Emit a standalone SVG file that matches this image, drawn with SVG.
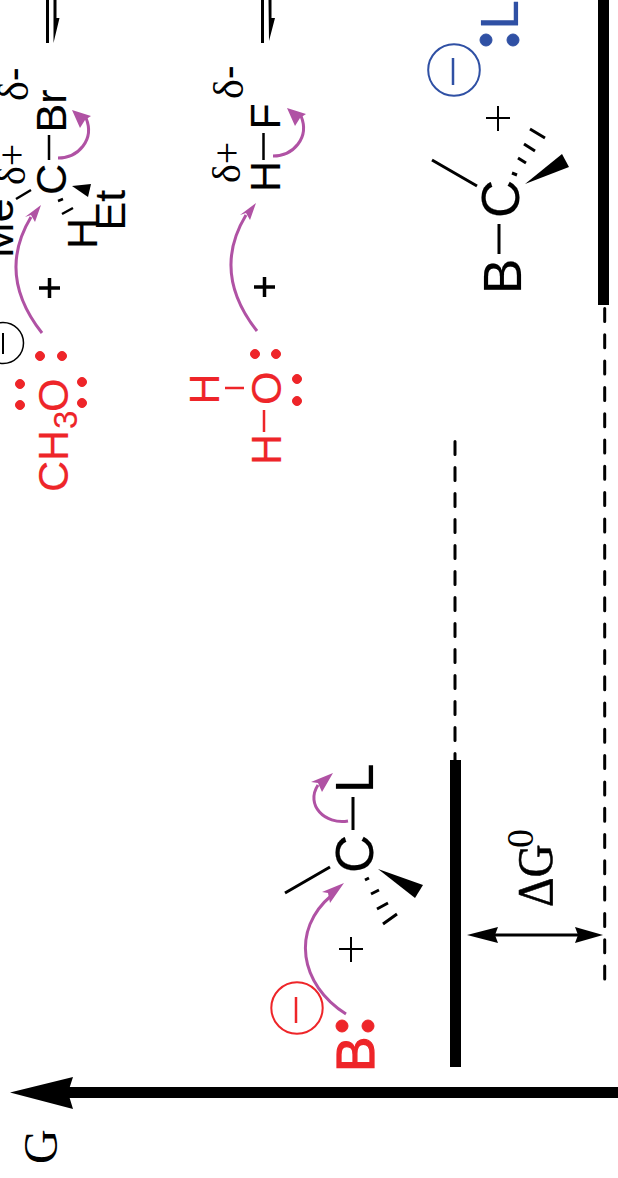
<svg xmlns="http://www.w3.org/2000/svg" width="618" height="1178" viewBox="0 0 618 1178">
<style>
text{font-family:"Liberation Sans",Arial,sans-serif;fill:#000}
.s{font-family:"Liberation Serif","Times New Roman",serif}
.m{font-size:43px;stroke:#000;stroke-width:.15}.l{font-size:53px;stroke:#000;stroke-width:.15}
.red{fill:#ee2529;stroke:#ee2529}.blue{fill:#2f50a4;stroke:#2f50a4}
.k{stroke:#000;fill:none}
.rl{stroke:#ee2529;fill:none}.bl{stroke:#2f50a4;fill:none}
.p{stroke:#b052a4;stroke-width:3;fill:none}.ph{fill:#b052a4}
.bar{fill:#000}
.dash{stroke:#000;stroke-width:3;fill:none;stroke-linecap:round}
</style>
<rect width="618" height="1178" fill="#fff"/>
<g id="eq1"><rect class="bar" x="46" y="0" width="3" height="43"/><polygon points="53.5,0 56.5,0 56.5,18 59.5,18 53.5,43"/></g>
<g id="eq2"><rect class="bar" x="261" y="0" width="3" height="43"/><polygon points="268.5,0 271.5,0 271.5,18 275,18 269,41"/></g>

<g id="substrate-bromide">
<text class="m" transform="translate(13,258) rotate(-90)">Me</text>
<text class="m" transform="translate(65.500,195) rotate(-90)">C</text>
<text class="m" transform="translate(66,132.500) rotate(-90)">Br</text>
<text class="m" transform="translate(125,230.500) rotate(-90)">Et</text>
<text class="m" transform="translate(97,249) rotate(-90)">H</text>
<text class="s" font-size="42" transform="translate(28,101) rotate(-90)">δ<tspan font-family="Liberation Sans">-</tspan></text>
<text class="s" font-size="40" transform="translate(25,185) rotate(-90)">δ+</text>
<path class="k" stroke-width="2.500" d="M49,135V160M16,199L31,190M58,201L63,199M62,214L73,208"/>
<polygon points="72,186 91,184 88,197"/>
</g>
<g id="methoxide">
<circle class="k" stroke-width="1.500" cx="3" cy="343" r="20.500"/><path class="k" stroke-width="2" d="M3,333V354"/>
<text class="m red" transform="translate(68,492) rotate(-90)">CH</text>
<text class="red" font-size="33" stroke-width=".15" transform="translate(77,429) rotate(-90)">3</text>
<text class="m red" transform="translate(68,412) rotate(-90)">O</text>
<g class="red"><circle cx="40" cy="356" r="4.500"/><circle cx="62" cy="356" r="4.500"/><circle cx="20" cy="384" r="4.500"/><circle cx="20" cy="405" r="4.500"/><circle cx="82" cy="382" r="4.500"/><circle cx="82" cy="403" r="4.500"/></g>
</g>
<g id="plus1"><path class="k" stroke-width="3.500" d="M39,288H60M49.500,278V298"/></g>

<g id="hf">
<text class="m" transform="translate(280,192) rotate(-90)">H</text>
<text class="m" transform="translate(280,129.500) rotate(-90)">F</text>
<path class="k" stroke-width="2.500" d="M263.500,133V160"/>
<text class="s" font-size="42" transform="translate(243,99) rotate(-90)">δ<tspan font-family="Liberation Sans">-</tspan></text>
<text class="s" font-size="40" transform="translate(240,183) rotate(-90)">δ+</text>
</g>
<g id="water">
<text class="m red" transform="translate(281,405) rotate(-90)">O</text>
<text class="m red" transform="translate(219,404.500) rotate(-90)">H</text>
<text class="m red" transform="translate(281,465) rotate(-90)">H</text>
<path class="rl" stroke-width="2.500" d="M225,388H244M264,410V432"/>
<g class="red"><circle cx="255" cy="354" r="4.500"/><circle cx="276" cy="354" r="4.500"/><circle cx="297" cy="379" r="4.500"/><circle cx="297" cy="401" r="4.500"/></g>
</g>
<g id="plus2"><path class="k" stroke-width="3.500" d="M254,287H275M264.500,277V297"/></g>

<g id="blue-leaving-group">
<text class="l blue" transform="translate(518,29.500) rotate(-90)">L</text>
<g class="blue"><circle cx="486" cy="40" r="6"/><circle cx="513" cy="40" r="6"/></g>
<circle class="bl" stroke-width="2" cx="454" cy="70" r="25.800"/><path class="bl" stroke-width="2.500" d="M453,58V85"/>
</g>
<g id="plus3"><path class="k" stroke-width="2" d="M486,118H510M498,106V131"/></g>
<g id="product">
<text class="l" transform="translate(519,218) rotate(-90)">C</text>
<text class="l" transform="translate(520.500,294) rotate(-90)">B</text>
<path class="k" stroke-width="3" d="M499,224V254M432,160L477,186M512,173L517,175M518,158L526,163M524,144L535,151M530,129L545,138"/>
<polygon points="525,184 562,154 569,167"/>
</g>

<g id="substrate">
<text class="l" transform="translate(373,793) rotate(-90)">L</text>
<text class="l" transform="translate(373,873) rotate(-90)">C</text>
<path class="k" stroke-width="3" d="M353,797V830M285,893L330,867M365,880L369,878M371,894L379,890M377,909L388,903M383,924L397,914"/>
<polygon points="378,869 423,885 415,898"/>
</g>
<g id="plus4"><path class="k" stroke-width="2" d="M339,949H363M351,937V962"/></g>
<g id="base">
<text class="l red" style="stroke-width:1.200px" transform="translate(374,1072) rotate(-90)">B</text>
<g class="red"><circle cx="342" cy="1026" r="6"/><circle cx="368" cy="1026" r="6"/></g>
<circle class="rl" stroke-width="2" cx="297" cy="1008" r="25.700"/><path class="rl" stroke-width="2.500" d="M296,997V1023"/>
</g>

<g id="levels">
<rect class="bar" x="598" y="0" width="11" height="305"/>
<rect class="bar" x="450" y="760" width="11" height="307"/>
<path class="dash" stroke-dasharray="13 13.300" d="M604.700,308.500V979"/>
<path class="dash" stroke-dasharray="13 13" d="M455,441.500V762"/>
</g>
<g id="axis">
<rect class="bar" x="65" y="1087" width="553" height="11"/>
<polygon points="10,1092.500 73,1077 68,1092.500 73,1109"/>
<text class="s" font-size="48" transform="translate(57,1164) rotate(-90)">G</text>
</g>
<g id="delta-g">
<text class="s" font-size="46" stroke="#000" stroke-width=".5" transform="translate(552,907) rotate(-90) scale(1,1.100)">ΔG</text>
<text class="s" font-size="38" transform="translate(533,848) rotate(-90)">0</text>
</g>

<g id="connectors">
<path class="p" d="M58,158C78,158 95,140 86,118"/><polygon class="ph" points="72,110 91,116 85,120 80,128"/>
<path class="p" d="M273,156C293,156 310,138 301,116"/><polygon class="ph" points="287,108 306,114 300,118 295,126"/>
<path class="p" d="M42,333C20,305 2,265 31,217"/><polygon class="ph" points="41,205 25,217 31,215 35,222"/>
<path class="p" d="M257,331C235,303 217,263 246,215"/><polygon class="ph" points="256,203 240,215 246,213 250,220"/>
<path class="p" d="M348,821C325,825 305,805 318,785"/><polygon class="ph" points="333,773 311,782 318,783 322,792"/>
<path class="p" d="M346,1014C300,985 290,930 332,895"/><polygon class="ph" points="344,883 322,892 328,893 330,903"/>
<path class="k" stroke-width="3" d="M490,935H585"/>
<polygon points="467,935 498,927 495,935 498,943"/><polygon points="603,935 575,927 578,935 575,943"/>
</g>
</svg>
